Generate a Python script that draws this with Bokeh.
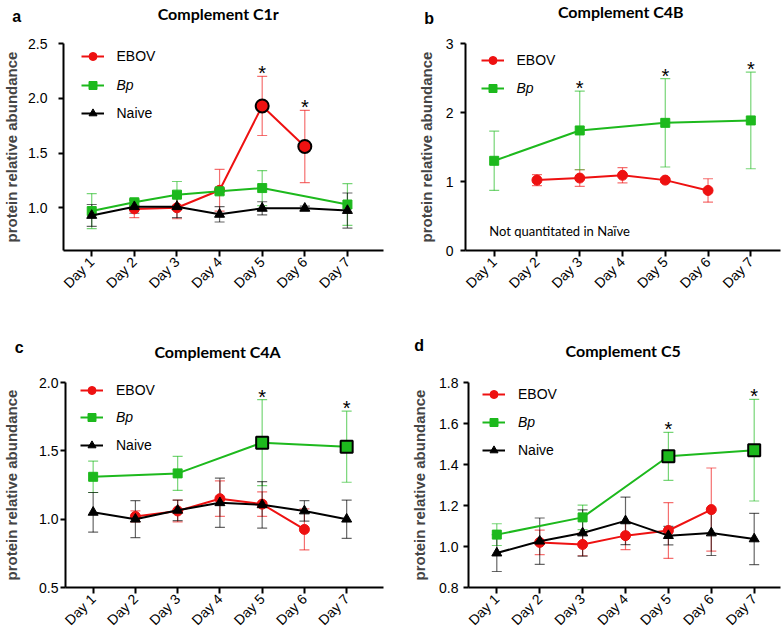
import math
from bokeh.plotting import figure
from bokeh.models import (ColumnDataSource, Whisker, TeeHead, Legend, LegendItem, Label,
                          FixedTicker, PrintfTickFormatter, Range1d)
from bokeh.layouts import column, row
from bokeh.embed import file_html
from bokeh.resources import INLINE
from bokeh.core.properties import value

# ---------------- data ----------------
days = ["Day 1", "Day 2", "Day 3", "Day 4", "Day 5", "Day 6", "Day 7"]

# a: Complement C1r
a_ebov = [None, 0.99, 1.00, 1.16, 1.93, 1.56, None]
a_ebov_err = [None, 0.08, 0.10, 0.19, 0.27, 0.33, None]
a_bp = [0.97, 1.05, 1.12, 1.15, 1.18, None, 1.03]
a_bp_err = [0.16, 0.03, 0.12, 0.03, 0.16, None, 0.19]
a_naive = [0.93, 1.01, 1.01, 0.94, 0.995, 0.995, 0.975]
a_naive_err = [0.10, 0.06, 0.10, 0.07, 0.06, 0.02, 0.16]

# b: Complement C4B
b_ebov = [None, 1.02, 1.05, 1.09, 1.02, 0.87, None]
b_ebov_err = [None, 0.08, 0.12, 0.11, 0.03, 0.17, None]
b_bp = [1.30, None, 1.74, None, 1.85, None, 1.885]
b_bp_err = [0.43, None, 0.57, None, 0.64, None, 0.70]

# c: Complement C4A
c_ebov = [None, 1.02, 1.06, 1.15, 1.11, 0.925, None]
c_ebov_err = [None, 0.04, 0.08, 0.13, 0.09, 0.15, None]
c_bp = [1.31, None, 1.335, None, 1.56, None, 1.53]
c_bp_err = [0.115, None, 0.125, None, 0.315, None, 0.26]
c_naive = [1.05, 1.00, 1.065, 1.12, 1.105, 1.06, 1.00]
c_naive_err = [0.145, 0.135, 0.075, 0.18, 0.17, 0.075, 0.14]

# d: Complement C5
d_ebov = [None, 1.02, 1.01, 1.053, 1.078, 1.18, None]
d_ebov_err = [None, 0.06, 0.055, 0.068, 0.136, 0.203, None]
d_bp = [1.058, None, 1.142, None, 1.44, None, 1.47]
d_bp_err = [0.053, None, 0.06, None, 0.117, None, 0.248]
d_naive = [0.968, 1.026, 1.066, 1.125, 1.053, 1.066, 1.037]
d_naive_err = [0.09, 0.113, 0.113, 0.116, 0.045, 0.11, 0.125]

# significant points (day numbers) and highlighted markers
a_stars = [("EBOV", 5), ("EBOV", 6)]
b_stars = [("Bp", 3), ("Bp", 5), ("Bp", 7)]
c_stars = [("Bp", 5), ("Bp", 7)]
d_stars = [("Bp", 5), ("Bp", 7)]
a_emph = {"EBOV": [5, 6]}
b_emph = {}
c_emph = {"Bp": [5, 7]}
d_emph = {"Bp": [5, 7]}

RED = "#EE1111"
GREEN = "#1DB91D"
BLACK = "#000000"
AX_FONT = "Liberation Sans"
TITLE_FONT = "Lato"

STYLE = {
    "EBOV": dict(color=RED, marker="circle", size=10, italic=False),
    "Bp": dict(color=GREEN, marker="square", size=9, italic=True),
    "Naive": dict(color=BLACK, marker="triangle", size=10, italic=False),
}


def build(g, title, letter, series, yticks, yfmt, stars, emph, note=None):
    ox, oy, w, h = g["fig"]
    fl, fr, ft, fb = g["frame"]
    y0, y1 = g["yr"]
    d1, d7 = g["days_px"]
    sp = (d7 - d1) / 6.0
    x0 = 1 - (d1 - fl) / sp
    x1 = 7 + (fr - d7) / sp
    p = figure(width=w, height=h, x_range=Range1d(x0, x1), y_range=Range1d(y0, y1),
               output_backend="svg", toolbar_location=None,
               min_border_left=int(round(fl - ox)), min_border_right=int(round(ox + w - fr)),
               min_border_top=int(round(ft - oy)), min_border_bottom=int(round(oy + h - fb)))
    p.outline_line_color = None
    p.xgrid.visible = False
    p.ygrid.visible = False
    p.background_fill_color = "white"

    def dx(px):
        return x0 + (px - fl) / (fr - fl) * (x1 - x0)

    def dy(py):
        return y1 - (py - ft) / (fb - ft) * (y1 - y0)

    ppu = (fb - ft) / (y1 - y0)

    # axes
    for ax in (p.xaxis[0], p.yaxis[0]):
        ax.axis_line_width = 2
        ax.axis_line_color = BLACK
        ax.major_tick_line_width = 2
        ax.major_tick_line_color = BLACK
        ax.major_tick_in = 0
        ax.minor_tick_line_color = None
        ax.major_label_text_font = AX_FONT
        ax.major_label_text_color = BLACK
    p.yaxis.ticker = FixedTicker(ticks=yticks)
    p.yaxis.formatter = PrintfTickFormatter(format=yfmt)
    p.yaxis.major_tick_out = 5
    p.yaxis.major_label_standoff = g["tick_so"]
    p.yaxis.major_label_text_font_size = "14px"
    p.yaxis.axis_label = "protein relative abundance"
    p.yaxis.axis_label_text_font = AX_FONT
    p.yaxis.axis_label_text_font_style = "bold"
    p.yaxis.axis_label_text_font_size = "15px"
    p.yaxis.axis_label_standoff = g["lab_so"]
    p.xaxis.ticker = FixedTicker(ticks=list(range(1, 8)))
    p.xaxis.major_label_overrides = {i + 1: d for i, d in enumerate(days)}
    p.xaxis.major_label_orientation = math.pi / 4
    p.xaxis.major_label_text_font_size = "14px"
    p.xaxis.major_tick_out = 6
    p.xaxis.major_label_standoff = 3

    for name, vals, errs, ly in series:
        st = STYLE[name]
        c = st["color"]
        xs = [i + 1 for i, v in enumerate(vals) if v is not None]
        ys = [v for v in vals if v is not None]
        es = [e for v, e in zip(vals, errs) if v is not None]
        src = ColumnDataSource(dict(x=xs, y=ys,
                                    lo=[y - e for y, e in zip(ys, es)],
                                    hi=[y + e for y, e in zip(ys, es)]))
        wk = Whisker(base="x", upper="hi", lower="lo", source=src, dimension="height",
                     line_color=c, line_alpha=0.6, line_width=1.2,
                     upper_head=TeeHead(size=10, line_color=c, line_alpha=0.6, line_width=1.2),
                     lower_head=TeeHead(size=10, line_color=c, line_alpha=0.6, line_width=1.2))
        p.add_layout(wk)
        ln = p.line("x", "y", source=src, line_color=c, line_width=2)
        sc = p.scatter("x", "y", source=src, marker=st["marker"], size=st["size"],
                       fill_color=c, line_color=c)
        lg = Legend(items=[LegendItem(label=name, renderers=[ln, sc])],
                    location=(g["leg_x"] - fl, fb - (ly + 10)),
                    padding=0, margin=0, spacing=0, border_line_color=None,
                    background_fill_alpha=0, glyph_width=23, glyph_height=20,
                    label_height=20, label_standoff=13,
                    label_text_font=AX_FONT, label_text_font_size="14px",
                    label_text_color=BLACK,
                    label_text_font_style=("italic" if st["italic"] else "normal"))
        p.add_layout(lg)

    # highlighted markers
    for name, vals, errs, ly in series:
        if name in emph:
            st = STYLE[name]
            ex = [d for d in emph[name]]
            ey = [vals[d - 1] for d in emph[name]]
            p.scatter(ex, ey, marker=st["marker"], size=st["size"] + 3,
                      fill_color=st["color"], line_color=BLACK, line_width=2)

    # stars
    lookup = {s[0]: (s[1], s[2]) for s in series}
    sx, sy = [], []
    for name, d in stars:
        vals, errs = lookup[name]
        sx.append(d)
        sy.append(vals[d - 1] + errs[d - 1] + 3.0 / ppu)
    p.text(x=sx, y=sy, text=["*"] * len(sx), text_font=value(AX_FONT),
           text_font_size="20px", text_align="center", text_baseline="alphabetic",
           text_color=BLACK)

    # title & letter (placed in the side panel so they are not clipped by the frame)
    tx, ty = g["title_px"]
    p.add_layout(Label(x=dx(tx), y=dy(ty), text=title, text_font=TITLE_FONT,
                       text_font_style="bold", text_font_size="16px",
                       text_align="center", text_baseline="middle", text_color=BLACK), "above")
    lx, lyy = g["letter_px"]
    p.add_layout(Label(x=dx(lx), y=dy(lyy), text=letter, text_font=AX_FONT,
                       text_font_style="bold", text_font_size="16px",
                       text_align="center", text_baseline="middle", text_color=BLACK), "above")
    if note:
        nx, ny = g["note_px"]
        p.add_layout(Label(x=dx(nx), y=dy(ny), text=note, text_font=TITLE_FONT,
                           text_font_size="13px", text_align="left",
                           text_baseline="middle", text_color=BLACK))
    return p


geo_a = dict(fig=(0, 0, 392, 318), frame=(61, 383, 43, 251), yr=(0.61, 2.5),
             days_px=(89.4, 346.7), leg_x=78.5, title_px=(216.7, 13), letter_px=(14, 16),
             tick_so=11, lab_so=5)
geo_b = dict(fig=(392, 0, 392, 318), frame=(465, 780, 41, 250), yr=(0, 3),
             days_px=(493.7, 750.3), leg_x=480.5, title_px=(620.3, 9), letter_px=(428.7, 16),
             note_px=(488.7, 230), tick_so=7, lab_so=8)
geo_c = dict(fig=(0, 318, 392, 318), frame=(61, 383, 380, 588), yr=(0.5, 2.0),
             days_px=(89, 345.7), leg_x=76, title_px=(215, 349), letter_px=(14, 344),
             tick_so=2, lab_so=16)
geo_d = dict(fig=(392, 318, 392, 318), frame=(468, 780, 382, 590), yr=(0.8, 1.8),
             days_px=(496.3, 753.7), leg_x=482, title_px=(622.7, 350), letter_px=(418.7, 344),
             tick_so=5, lab_so=8)

pa = build(geo_a, "Complement C1r", "a",
           [("EBOV", a_ebov, a_ebov_err, 56.7), ("Bp", a_bp, a_bp_err, 86),
            ("Naive", a_naive, a_naive_err, 114)],
           [1.0, 1.5, 2.0, 2.5], "%.1f", a_stars, a_emph)
pb = build(geo_b, "Complement C4B", "b",
           [("EBOV", b_ebov, b_ebov_err, 60), ("Bp", b_bp, b_bp_err, 88.3)],
           [0, 1, 2, 3], "%d", b_stars, b_emph, note="Not quantitated in Naïve")
pc = build(geo_c, "Complement C4A", "c",
           [("EBOV", c_ebov, c_ebov_err, 390.5), ("Bp", c_bp, c_bp_err, 418),
            ("Naive", c_naive, c_naive_err, 445.5)],
           [0.5, 1.0, 1.5, 2.0], "%.1f", c_stars, c_emph)
pd_ = build(geo_d, "Complement C5", "d",
            [("EBOV", d_ebov, d_ebov_err, 397), ("Bp", d_bp, d_bp_err, 425.3),
             ("Naive", d_naive, d_naive_err, 453)],
            [0.8, 1.0, 1.2, 1.4, 1.6, 1.8], "%.1f", d_stars, d_emph)

layout = column(row(pa, pb, spacing=0), row(pc, pd_, spacing=0), spacing=0)
open("out.html", "w").write(file_html(layout, INLINE))
